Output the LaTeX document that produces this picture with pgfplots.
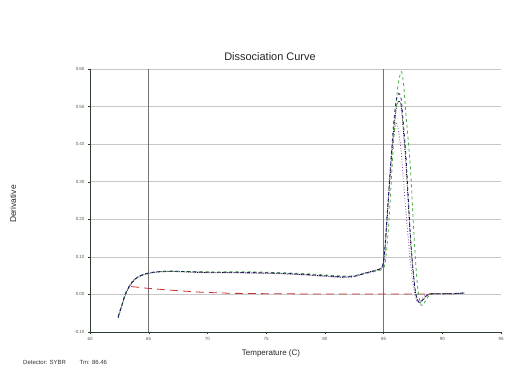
\documentclass[border=0pt]{standalone}
\usepackage{pgfplots}
\pgfplotsset{compat=1.18}
\usepackage{fontspec}
\setmainfont{Liberation Sans}
\definecolor{cgreen}{RGB}{70,170,70}
\definecolor{cnavy}{RGB}{25,25,115}
\definecolor{cpurple}{RGB}{130,70,150}
\definecolor{cred}{RGB}{200,50,50}
\definecolor{caxis}{RGB}{45,60,45}
\begin{document}
\begin{tikzpicture}[x=1bp,y=1bp]
\useasboundingbox (0,0) rectangle (506,365);
\begin{axis}[
  at={(90bp,33bp)}, anchor=south west,
  scale only axis, width=411bp, height=263bp,
  xmin=60, xmax=95, ymin=-0.1, ymax=0.6,
  axis lines=left, axis line style={-, color=caxis, line width=0.8pt},
  xtick={60,65,70,75,80,85,90,95},
  ytick={-0.1,0,0.1,0.2,0.3,0.4,0.5,0.6},
  tick align=outside, major tick length=2bp,
  tick style={color=caxis},
  ymajorgrids, major grid style={gray!45, line width=0.6pt},
  extra x ticks={65,85}, extra x tick labels={},
  extra x tick style={grid=major, major grid style={gray!90!black, line width=0.6pt}},
  tick label style={font=\fontsize{4.5}{5}\selectfont, text=gray!70!black},
  /pgf/number format/assume math mode=true,
  yticklabel style={/pgf/number format/.cd, fixed, fixed zerofill, precision=2},
  xticklabel style={/pgf/number format/.cd, fixed, precision=0},
  every axis plot/.append style={line width=0.8pt},
]
% red baseline
\addplot[cred, dash pattern=on 8bp off 5bp] coordinates {
(63.5,0.021)(65,0.016)(67,0.011)(69.4,0.006)(72,0.003)(75,0.002)(80,0.001)(85,0.001)(88,0.001)(90,0.002)(91.5,0.003)};
% black dotted
\addplot[black, densely dotted, smooth] coordinates {
(62.4,-0.062)(62.7,-0.032)(63.0,-0.002)(63.4,0.023)(63.8,0.039)(64.3,0.049)(65.0,0.056)(66.0,0.060)(67.0,0.061)(68.0,0.060)(70.0,0.058)(72.0,0.058)(74.0,0.057)(76.0,0.056)(78.0,0.053)(80.0,0.049)(81.5,0.046)(82.5,0.049)(83.5,0.058)(84.5,0.066)(84.9,0.074)(85.1,0.115)(85.3,0.200)(85.5,0.290)(85.7,0.375)(85.9,0.450)(86.1,0.500)(86.3,0.515)(86.5,0.500)(86.7,0.430)(86.9,0.350)(87.1,0.245)(87.3,0.140)(87.5,0.065)(87.7,0.008)(87.9,-0.016)(88.1,-0.022)(88.4,-0.012)(88.8,0.000)(89.5,0.002)(91.0,0.002)(91.9,0.004)};
% purple
\addplot[cpurple, dotted, smooth] coordinates {
(62.4,-0.058)(62.7,-0.028)(63.0,0.002)(63.4,0.026)(63.8,0.041)(64.3,0.051)(65.0,0.058)(66.0,0.061)(67.0,0.062)(68.0,0.061)(70.0,0.059)(72.0,0.058)(74.0,0.057)(76.0,0.055)(78.0,0.052)(80.0,0.048)(81.5,0.045)(82.5,0.047)(83.5,0.056)(84.5,0.065)(85.0,0.075)(85.2,0.150)(85.4,0.260)(85.6,0.350)(85.8,0.410)(86.1,0.455)(86.3,0.430)(86.5,0.380)(86.7,0.300)(86.9,0.220)(87.1,0.150)(87.3,0.080)(87.5,0.030)(87.7,-0.005)(87.9,-0.020)(88.2,-0.015)(88.6,0.000)(89.5,0.002)(91.0,0.002)(91.9,0.004)};
% green
\addplot[cgreen, dashed, smooth] coordinates {
(62.4,-0.058)(62.7,-0.029)(63.0,0.001)(63.4,0.025)(63.8,0.040)(64.3,0.050)(65.0,0.057)(66.0,0.061)(67.0,0.062)(68.0,0.061)(70.0,0.060)(72.0,0.060)(74.0,0.060)(76.0,0.058)(78.0,0.056)(80.0,0.052)(81.5,0.049)(82.5,0.050)(83.5,0.056)(84.5,0.063)(85.0,0.070)(85.2,0.100)(85.4,0.170)(85.6,0.270)(85.8,0.380)(86.0,0.470)(86.2,0.550)(86.5,0.593)(86.7,0.560)(86.9,0.480)(87.1,0.410)(87.3,0.330)(87.5,0.210)(87.7,0.100)(87.9,0.020)(88.1,-0.020)(88.3,-0.030)(88.6,-0.015)(89.0,0.000)(90.0,0.002)(91.0,0.002)(91.9,0.004)};
% navy
\addplot[cnavy, dashed, smooth] coordinates {
(62.4,-0.060)(62.7,-0.030)(63.0,0.000)(63.4,0.025)(63.8,0.040)(64.3,0.050)(65.0,0.057)(66.0,0.061)(67.0,0.062)(68.0,0.061)(70.0,0.059)(72.0,0.059)(74.0,0.058)(76.0,0.057)(78.0,0.054)(80.0,0.050)(81.5,0.047)(82.5,0.048)(83.5,0.057)(84.5,0.066)(84.9,0.075)(85.1,0.120)(85.3,0.210)(85.5,0.300)(85.7,0.390)(85.9,0.470)(86.1,0.520)(86.3,0.535)(86.5,0.520)(86.7,0.450)(86.9,0.370)(87.1,0.260)(87.3,0.150)(87.5,0.070)(87.7,0.010)(87.9,-0.015)(88.1,-0.022)(88.4,-0.012)(88.8,0.000)(89.5,0.002)(91.0,0.002)(91.9,0.004)};
\end{axis}
\node[font=\fontsize{11}{13}\selectfont, text=black!85] at (270,308) {Dissociation Curve};
\node[rotate=90, font=\fontsize{8.5}{10}\selectfont, text=black!85] at (13,161) {Derivative};
\node[font=\fontsize{8}{10}\selectfont, text=black!85] at (271,12) {Temperature (C)};
\node[anchor=base west, font=\fontsize{6}{7}\selectfont, text=black!80, inner sep=0pt] at (23,0.5) {Detector: SYBR \qquad Tm: 86.46};
\end{tikzpicture}
\end{document}
